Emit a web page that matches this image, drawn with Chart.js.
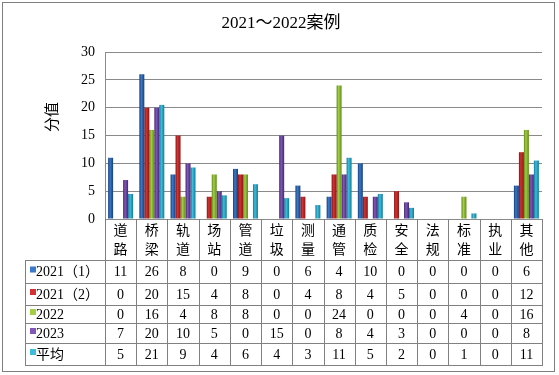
<!DOCTYPE html>
<html>
<head>
<meta charset="utf-8">
<script src="https://cdn.jsdelivr.net/npm/chart.js@4/dist/chart.umd.min.js"></script>
<style>
  html, body { margin: 0; padding: 0; background: #fff; }
  #wrap { width: 559px; height: 375px; }
</style>
</head>
<body>
<div id="wrap"><canvas id="myChart"></canvas></div>
<script>
const categories = ['道路', '桥梁', '轨道', '场站', '管道', '垃圾', '测量', '通管', '质检', '安全', '法规', '标准', '执业', '其他'];
const seriesNames = ['2021（1）', '2021（2）', '2022', '2023', '平均'];
const v2021a = [11, 26, 8, 0, 9, 0, 6, 4, 10, 0, 0, 0, 0, 6];
const v2021b = [0, 20, 15, 4, 8, 0, 4, 8, 4, 5, 0, 0, 0, 12];
const v2022 = [0, 16, 4, 8, 8, 0, 0, 24, 0, 0, 0, 4, 0, 16];
const v2023 = [7, 20, 10, 5, 0, 15, 0, 8, 4, 3, 0, 0, 0, 8];
const vAvg = [4.5, 20.5, 9.25, 4.25, 6.25, 3.75, 2.5, 11, 4.5, 2, 0, 1, 0, 10.5];
const yTicks = [0, 5, 10, 15, 20, 25, 30];

// colours: [dark edge, light middle]
const colours = [
    ['#173f7a', '#3a78c8'],
    ['#8c1414', '#d23232'],
    ['#5f8a18', '#a4cc44'],
    ['#432670', '#8157b8'],
    ['#137a98', '#3cbddc']
];

const serif = '"Liberation Serif", "Noto Sans CJK SC", serif';

function barFill(c) {
    const pair = colours[c.datasetIndex];
    const xs = c.chart.scales && c.chart.scales.x;
    if (c.type !== 'data' || !xs || !xs.width) return pair[1];
    const n = c.chart.data.datasets.length;
    const w = xs.width / categories.length * 0.8 / n;
    const cx = xs.getPixelForValue(c.dataIndex) + (c.datasetIndex - (n - 1) / 2) * w;
    const g = c.chart.ctx.createLinearGradient(cx - w / 2, 0, cx + w / 2, 0);
    g.addColorStop(0, pair[0]);
    g.addColorStop(0.4, pair[1]);
    g.addColorStop(1, pair[0]);
    return g;
}

const tableRows = [260, 283, 305, 323, 343, 365];
const tableLeft = 25;

const decorations = {
    id: 'decorations',
    afterDraw(chart) {
        const { ctx, chartArea: { left, right, top, bottom } } = chart;
        const xs = chart.scales.x;
        ctx.save();

        // outer frame
        ctx.strokeStyle = '#7f7f7f';
        ctx.lineWidth = 1;
        ctx.strokeRect(2.5, 2.5, 552, 369);

        // title
        ctx.fillStyle = '#000';
        ctx.textAlign = 'center';
        ctx.textBaseline = 'middle';
        ctx.font = '17px ' + serif;
        ctx.fillText('2021～2022案例', 281, 24);

        // y title
        ctx.save();
        ctx.translate(53, 117);
        ctx.rotate(-Math.PI / 2);
        ctx.font = '15px ' + serif;
        ctx.fillText('分值', 0, 0);
        ctx.restore();

        // data table lines
        const colW = (right - left) / categories.length;
        const last = tableRows[tableRows.length - 1];
        ctx.strokeStyle = '#808080';
        ctx.beginPath();
        for (let i = 0; i <= categories.length; i++) {
            const x = Math.round(left + i * colW) + 0.5;
            ctx.moveTo(x, bottom);
            ctx.lineTo(x, last);
        }
        ctx.moveTo(tableLeft + 0.5, tableRows[0]);
        ctx.lineTo(tableLeft + 0.5, last);
        tableRows.forEach(y => {
            ctx.moveTo(tableLeft, y + 0.5);
            ctx.lineTo(Math.round(right) + 1, y + 0.5);
        });
        ctx.stroke();

        // header: category names, two characters stacked
        ctx.font = '14px ' + serif;
        categories.forEach((name, i) => {
            const x = xs.getPixelForValue(i);
            ctx.fillText(name[0], x, bottom + 12);
            ctx.fillText(name[1], x, bottom + 31);
        });

        // rows
        const datasets = chart.data.datasets;
        datasets.forEach((ds, r) => {
            const y = (tableRows[r] + tableRows[r + 1]) / 2 + 1;
            ctx.fillStyle = colours[r][1];
            ctx.fillRect(tableLeft + 5, y - 6, 6, 6);
            ctx.fillStyle = '#000';
            ctx.textAlign = 'left';
            ctx.fillText(seriesNames[r], tableLeft + 11, y);
            ctx.textAlign = 'center';
            ds.data.forEach((v, i) => {
                ctx.fillText(String(Math.round(v)), xs.getPixelForValue(i), y);
            });
        });
        ctx.restore();
    }
};

const allSeries = [v2021a, v2021b, v2022, v2023, vAvg];

new Chart(document.getElementById('myChart'), {
    type: 'bar',
    data: {
        labels: categories,
        datasets: allSeries.map((vals, i) => ({
            label: seriesNames[i],
            data: vals,
            backgroundColor: barFill,
            borderWidth: 0,
            categoryPercentage: 0.8,
            barPercentage: 1.0
        }))
    },
    options: {
        responsive: true,
        maintainAspectRatio: false,
        animation: false,
        layout: { padding: { top: 52, bottom: 156, left: 0, right: 17 } },
        plugins: {
            legend: { display: false },
            title: { display: false },
            tooltip: { enabled: false }
        },
        scales: {
            x: { display: false },
            y: {
                min: 0,
                max: 30,
                afterBuildTicks(scale) { scale.ticks = yTicks.map(v => ({ value: v })); },
                afterFit(scale) { scale.width = 105; },
                ticks: { color: '#000', font: { family: serif, size: 14 }, padding: 10 },
                grid: { color: '#8a8a8a', drawTicks: false },
                border: { color: '#8a8a8a' }
            }
        }
    },
    plugins: [decorations]
});
</script>
</body>
</html>
